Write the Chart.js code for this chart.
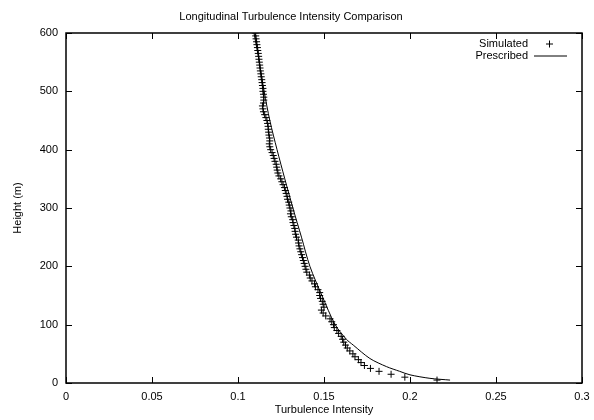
<!DOCTYPE html>
<html>
<head>
<meta charset="utf-8">
<title>Longitudinal Turbulence Intensity Comparison</title>
<script src="https://cdn.jsdelivr.net/npm/chart.js@4.4.1/dist/chart.umd.min.js"></script>
<style>
    html, body { margin: 0; padding: 0; background: #fff; }
</style>
</head>
<body>
<canvas id="turbChart" width="594" height="420"></canvas>
<script>
// Simulated profile (every 5 m)
const simHeights = [
    5, 10, 15, 20, 25, 30, 35, 40, 45, 50,
    55, 60, 65, 70, 75, 80, 85, 90, 95, 100,
    105, 110, 115, 120, 125, 130, 135, 140, 145, 150,
    155, 160, 165, 170, 175, 180, 185, 190, 195, 200,
    205, 210, 215, 220, 225, 230, 235, 240, 245, 250,
    255, 260, 265, 270, 275, 280, 285, 290, 295, 300,
    305, 310, 315, 320, 325, 330, 335, 340, 345, 350,
    355, 360, 365, 370, 375, 380, 385, 390, 395, 400,
    405, 410, 415, 420, 425, 430, 435, 440, 445, 450,
    455, 460, 465, 470, 475, 480, 485, 490, 495, 500,
    505, 510, 515, 520, 525, 530, 535, 540, 545, 550,
    555, 560, 565, 570, 575, 580, 585, 590, 595, 600
];
const simIntensity = [
    0.2157, 0.197, 0.189, 0.182, 0.177, 0.1735, 0.1715, 0.170, 0.168, 0.1668,
    0.165, 0.1635, 0.1625, 0.1615, 0.1608, 0.160, 0.1585, 0.1575, 0.156, 0.1555,
    0.1545, 0.1535, 0.151, 0.1495, 0.1485, 0.150, 0.1495, 0.149, 0.148, 0.1475,
    0.1475, 0.1465, 0.145, 0.1445, 0.143, 0.142, 0.1415, 0.140, 0.1395, 0.139,
    0.1385, 0.138, 0.1375, 0.137, 0.1365, 0.136, 0.1355, 0.1352, 0.135, 0.134,
    0.1335, 0.1332, 0.133, 0.1325, 0.132, 0.1318, 0.131, 0.1305, 0.1308, 0.1302,
    0.1298, 0.1295, 0.1288, 0.1285, 0.128, 0.1275, 0.127, 0.1262, 0.1255, 0.1248,
    0.1238, 0.1232, 0.1228, 0.1225, 0.1222, 0.1215, 0.121, 0.1205, 0.1198, 0.119,
    0.1185, 0.1182, 0.1185, 0.1183, 0.118, 0.1178, 0.1176, 0.1175, 0.1172, 0.1168,
    0.1162, 0.1155, 0.1148, 0.1145, 0.1142, 0.1148, 0.115, 0.115, 0.1148, 0.1145,
    0.1145, 0.1142, 0.114, 0.1138, 0.1135, 0.1133, 0.113, 0.1128, 0.1126, 0.1124,
    0.1122, 0.112, 0.1118, 0.1115, 0.1113, 0.111, 0.1108, 0.1105, 0.1103, 0.110
];

// Prescribed profile
const presHeights = [5, 8, 14, 20, 28, 42, 65, 75, 100, 150, 200, 250, 300, 350, 400, 450, 500, 550, 600];
const presIntensity = [0.2233, 0.2116, 0.200, 0.194, 0.1864, 0.1767, 0.167, 0.163, 0.1565, 0.1488, 0.1418, 0.1369, 0.1319, 0.1272, 0.1227, 0.1185, 0.1152, 0.1124, 0.1093];

// Axis ticks
const xTicks = [0, 0.05, 0.1, 0.15, 0.2, 0.25, 0.3];
const xTickLabels = ['0', '0.05', '0.1', '0.15', '0.2', '0.25', '0.3'];
const yTicks = [0, 100, 200, 300, 400, 500, 600];
const yTickLabels = ['0', '100', '200', '300', '400', '500', '600'];

const FONT = '"Liberation Sans", Arial, Helvetica, sans-serif';

// gnuplot style border with inward ticks on all four sides
const frameTicks = {
    id: 'frameTicks',
    afterDatasetsDraw(chart) {
        const { ctx, chartArea: a, scales: { x, y } } = chart;
        const len = 6;
        ctx.save();
        ctx.strokeStyle = '#000';
        ctx.lineWidth = 1;
        ctx.beginPath();
        x.ticks.forEach(t => {
            const px = Math.round(x.getPixelForValue(t.value)) + 0.5;
            ctx.moveTo(px, a.bottom);
            ctx.lineTo(px, a.bottom - len);
            ctx.moveTo(px, a.top);
            ctx.lineTo(px, a.top + len);
        });
        y.ticks.forEach(t => {
            const py = Math.round(y.getPixelForValue(t.value)) + 0.5;
            ctx.moveTo(a.left, py);
            ctx.lineTo(a.left + len, py);
            ctx.moveTo(a.right, py);
            ctx.lineTo(a.right - len, py);
        });
        ctx.stroke();
        ctx.lineWidth = 1.5;
        ctx.strokeRect(a.left, a.top, a.right - a.left, a.bottom - a.top);
        ctx.restore();
    }
};

// Key in the top right corner: text first, sample after it
const keyBox = {
    id: 'keyBox',
    afterDraw(chart) {
        const { ctx, chartArea: a } = chart;
        const sets = chart.data.datasets;
        const textRight = a.right - 54;
        const rowY = [a.top + 10.5, a.top + 22.5];
        ctx.save();
        ctx.font = '11px ' + FONT;
        ctx.fillStyle = '#000';
        ctx.textAlign = 'right';
        ctx.textBaseline = 'middle';
        ctx.strokeStyle = '#000';
        ctx.lineWidth = 1;
        sets.forEach((ds, i) => {
            ctx.fillText(ds.label, textRight, rowY[i]);
            ctx.beginPath();
            if (ds.showLine) {
                ctx.moveTo(textRight + 6, rowY[i] + 0.5);
                ctx.lineTo(textRight + 39, rowY[i] + 0.5);
            } else {
                const cx = textRight + 21.5;
                ctx.moveTo(cx - 3.5, rowY[i] + 0.5);
                ctx.lineTo(cx + 3.5, rowY[i] + 0.5);
                ctx.moveTo(cx, rowY[i] - 3);
                ctx.lineTo(cx, rowY[i] + 4);
            }
            ctx.stroke();
        });
        ctx.restore();
    }
};

function buildChart() {
    const simPoints = simHeights.map((h, i) => ({ x: simIntensity[i], y: h }));
    const presPoints = presHeights.map((h, i) => ({ x: presIntensity[i], y: h }));

    return new Chart(document.getElementById('turbChart'), {
        type: 'scatter',
        data: {
            datasets: [{
                label: 'Simulated',
                data: simPoints,
                pointStyle: 'cross',
                pointRadius: 3.5,
                borderColor: '#000',
                backgroundColor: '#000',
                borderWidth: 1,
                showLine: false
            }, {
                label: 'Prescribed',
                data: presPoints,
                showLine: true,
                pointRadius: 0,
                borderColor: '#000',
                borderWidth: 1,
                tension: 0.3,
                fill: false
            }]
        },
        options: {
            responsive: false,
            animation: false,
            devicePixelRatio: 1,
            layout: { padding: { left: 0, right: 12, top: 0, bottom: 0 } },
            plugins: {
                legend: { display: false },
                tooltip: { enabled: false },
                title: {
                    display: true,
                    text: 'Longitudinal Turbulence Intensity Comparison',
                    color: '#000',
                    font: { family: FONT, size: 11, weight: 'normal' },
                    padding: { top: 10, bottom: 9.8 }
                }
            },
            scales: {
                x: {
                    type: 'linear',
                    min: 0,
                    max: 0.3,
                    afterBuildTicks: s => { s.ticks = xTicks.map(v => ({ value: v })); },
                    afterFit: s => { s.height = 37; },
                    grid: { display: false },
                    border: { display: false },
                    ticks: {
                        color: '#000',
                        font: { family: FONT, size: 11 },
                        padding: -1,
                        maxRotation: 0,
                        autoSkip: false,
                        callback: (v, i) => xTickLabels[i]
                    },
                    title: {
                        display: true,
                        text: 'Turbulence Intensity',
                        color: '#000',
                        font: { family: FONT, size: 11 },
                        padding: { top: 0, bottom: 3.4 }
                    }
                },
                y: {
                    type: 'linear',
                    min: 0,
                    max: 600,
                    afterBuildTicks: s => { s.ticks = yTicks.map(v => ({ value: v })); },
                    afterFit: s => { s.width = 66; },
                    grid: { display: false },
                    border: { display: false },
                    ticks: {
                        color: '#000',
                        font: { family: FONT, size: 11 },
                        padding: 0,
                        autoSkip: false,
                        callback: (v, i) => yTickLabels[i]
                    },
                    title: {
                        display: true,
                        text: 'Height (m)',
                        color: '#000',
                        font: { family: FONT, size: 11 },
                        padding: { top: 11.4, bottom: 0 }
                    }
                }
            }
        },
        plugins: [frameTicks, keyBox]
    });
}

document.addEventListener('DOMContentLoaded', buildChart);
</script>
</body>
</html>
